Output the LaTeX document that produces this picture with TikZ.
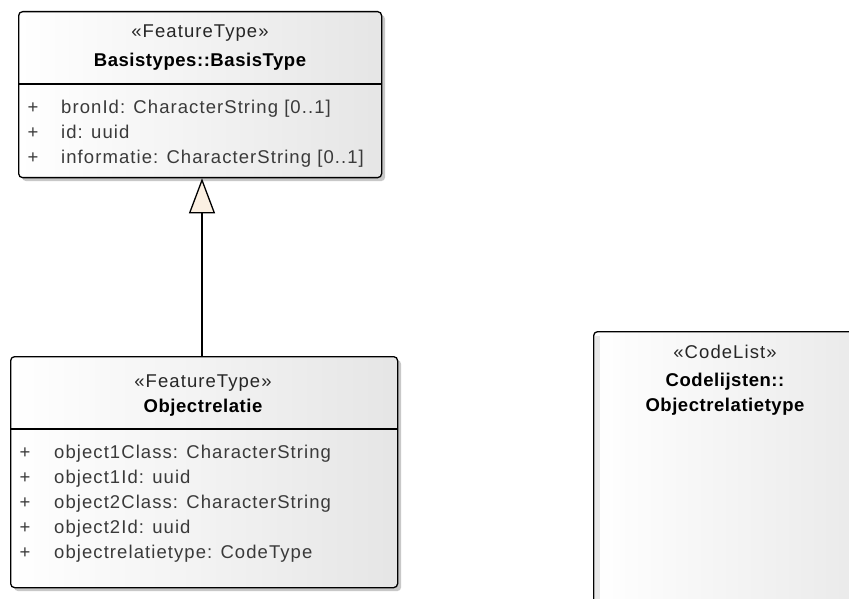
\documentclass[tikz,border=0pt]{standalone}
\usepackage{fontspec}
\setmainfont{Liberation Sans}[LetterSpace=5.8, BoldFeatures={LetterSpace=3}]
\usetikzlibrary{arrows.meta,shadows,calc}
\definecolor{attrcol}{HTML}{3A3A3A}
\definecolor{beige}{HTML}{FBF0E2}
\begin{document}
\begin{tikzpicture}[x=1pt,y=-1pt,
  umlbox/.style={draw=black, line width=1.3pt, rounded corners=4pt, left color=white, right color=black!10,
    drop shadow={shadow xshift=3.5pt, shadow yshift=-3.5pt, fill=black!30, opacity=0.7},
    anchor=north west, inner sep=0pt},
  stereo/.style={anchor=base, inner sep=0pt, font=\fontsize{18.5}{21}\selectfont, text=black!85},
  cname/.style={anchor=base, inner sep=0pt, font=\fontsize{18.5}{21}\selectfont\bfseries},
  attr/.style={anchor=base west, inner sep=0pt, font=\fontsize{18.5}{21}\selectfont, text=attrcol},
  vis/.style={anchor=base, inner sep=0pt, font=\fontsize{18.5}{21}\selectfont, text=attrcol},
  divider/.style={line width=1.3pt, draw=black},
  gen/.style={line width=1.3pt, draw=black, -{Triangle[length=35pt,width=26pt,fill=beige,line join=miter]}}]
\clip (0,0) rectangle (849,599);
\fill[white] (0,0) rectangle (849,599);
% Basistypes::BasisType
\node[umlbox, minimum width=363pt, minimum height=166pt] (basis) at (18,11) {};
\draw[divider] ($(basis.north west)+(0,73)$) -- ($(basis.north east)+(0,73)$);
\node[stereo] (bst) at (200,37.3) {«FeatureType»};
\node[cname] (bnm) at (200,66.7) {Basistypes::BasisType};
\node[vis] (bv1) at (33,113.5) {+};
\node[attr] (ba1) at (61,113.5) {bronId: CharacterString [0..1]};
\node[vis] (bv2) at (33,138.5) {+};
\node[attr] (ba2) at (61,138.5) {id: uuid};
\node[vis] (bv3) at (33,163.5) {+};
\node[attr] (ba3) at (61,163.5) {informatie: CharacterString [0..1]};
% Objectrelatie
\node[umlbox, minimum width=387pt, minimum height=231pt] (obj) at (10,356) {};
\draw[divider] ($(obj.north west)+(0,73)$) -- ($(obj.north east)+(0,73)$);
\node[stereo] (ost) at (203,387.3) {«FeatureType»};
\node[cname] (onm) at (203,412.7) {Objectrelatie};
\node[vis] (ov1) at (25,458.5) {+};
\node[attr] (oa1) at (54,458.5) {object1Class: CharacterString};
\node[vis] (ov2) at (25,483.5) {+};
\node[attr] (oa2) at (54,483.5) {object1Id: uuid};
\node[vis] (ov3) at (25,508.5) {+};
\node[attr] (oa3) at (54,508.5) {object2Class: CharacterString};
\node[vis] (ov4) at (25,533.5) {+};
\node[attr] (oa4) at (54,533.5) {object2Id: uuid};
\node[vis] (ov5) at (25,558.5) {+};
\node[attr] (oa5) at (54,558.5) {objectrelatietype: CodeType};
% Codelijsten::Objectrelatietype
\node[umlbox, minimum width=320pt, minimum height=320pt] (code) at (593,331) {};
\fill[black!9] ($(code.north west)+(1.5,5)$) rectangle ($(code.north west)+(7,300)$);
\node[stereo] (cst) at (725,358) {«CodeList»};
\node[cname] (cn1) at (725,386.7) {Codelijsten::};
\node[cname] (cn2) at (725,411.7) {Objectrelatietype};
% generalization
\coordinate (gx) at (202,0);
\draw[gen] (obj.north -| gx) -- (basis.south -| gx);
\end{tikzpicture}
\end{document}
